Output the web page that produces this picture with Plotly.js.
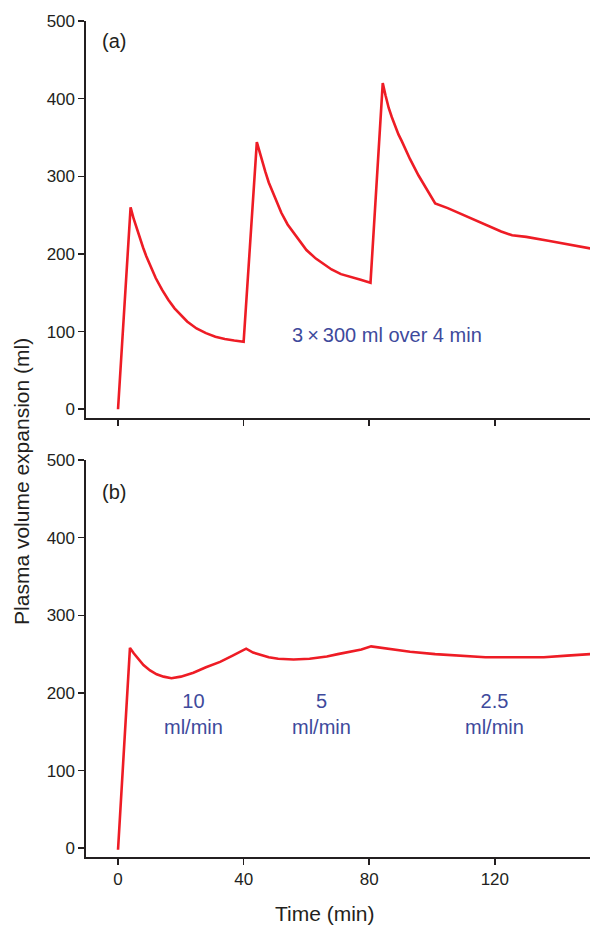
<!DOCTYPE html>
<html>
<head>
<meta charset="utf-8">
<script src="https://cdn.plot.ly/plotly-3.0.1.min.js"></script>
<style>
  html, body { margin: 0; padding: 0; background: #fff; }
  #chart { width: 590px; height: 927px; }
</style>
</head>
<body>
<div id="chart"></div>
<script>
// Panel (a): 3 x 300 ml over 4 min
const timeA = [0, 4, 5, 6, 7, 8, 9, 10, 12, 14, 16, 18, 20, 22, 25, 28, 31, 34, 37, 40,
               44.2, 45.5, 46.9, 48, 49.3, 50.6, 52, 54, 57, 60, 63, 65.5, 68, 71, 74, 77, 80.4,
               84.3, 85.2, 86.2, 87.2, 88.3, 89.3, 90.4, 93, 95.7, 98.4, 101,
               105, 110, 113.8, 118, 122, 125.5, 130, 137, 144, 150.5];
const volA  = [0, 260, 245, 232, 220, 208, 197, 187, 169, 154, 141, 130, 121, 113, 104, 98, 93.5, 90.5, 88.5, 87,
               344, 324, 306, 292, 279, 266, 253, 238, 222, 205, 194, 187, 180, 174, 170, 167, 163,
               420, 404, 388, 376, 364, 354, 345, 322, 301, 282, 265,
               259, 250, 243, 236, 229, 224, 222, 217, 212, 207];

// Panel (b): 10, 5 and 2.5 ml/min
const timeB = [0, 3.8, 5, 6, 7, 8.1, 10.2, 12.3, 14.5, 17, 20, 24, 28, 32.5, 36.5, 40.8,
               43, 45.3, 48, 51, 55.9, 61, 66.5, 70, 74, 77.5, 80.6,
               87, 93, 101, 109, 117, 125, 131, 135.6, 143, 150.5];
const volB  = [-2, 258, 251, 246, 241, 236, 229, 224, 221, 219, 221, 226, 233, 240, 248, 257,
               252, 249, 246, 244, 243, 244, 247, 250, 253, 256, 260,
               256, 253, 250, 248, 246, 246, 246, 246, 248, 250];

const yTicks = [0, 100, 200, 300, 400, 500];
const xTicks = [0, 40, 80, 120];

const labelA = "3\u2009\u00d7\u2009300 ml over 4 min";
const ratesB = ["10<br>ml/min", "5<br>ml/min", "2.5<br>ml/min"];
const rateX  = [23.9, 64.7, 119.9];

const red = "#ee1c25";
const ink = "#231f20";
const blue = "#3e4a9c";
const fontFam = "Liberation Sans, Arial, Helvetica, sans-serif";

const traces = [
  { x: timeA, y: volA, xaxis: "x2", yaxis: "y2", mode: "lines",
    line: { color: red, width: 2.6 }, hoverinfo: "skip", showlegend: false },
  { x: timeB, y: volB, xaxis: "x", yaxis: "y", mode: "lines",
    line: { color: red, width: 2.6 }, hoverinfo: "skip", showlegend: false }
];

const xCommon = {
  range: [-10.2, 150.3], tickvals: xTicks, ticks: "outside", ticklen: 6, tickwidth: 1.5,
  tickcolor: ink, showline: true, linewidth: 1.6, linecolor: ink, showgrid: false,
  zeroline: false, tickfont: { family: fontFam, size: 17, color: ink }, fixedrange: true
};
const yCommon = {
  range: [-11.3, 500], tickvals: yTicks, ticks: "outside", ticklen: 6, tickwidth: 1.5,
  tickcolor: ink, showline: true, linewidth: 1.6, linecolor: ink, showgrid: false,
  zeroline: false, tickfont: { family: fontFam, size: 17, color: ink }, fixedrange: true
};

const annotations = [
  { x: 85.7, y: 95, xref: "x2", yref: "y2", text: labelA, showarrow: false,
    font: { family: fontFam, size: 20, color: blue } },
  { x: 0.027, y: 0.976, xref: "paper", yref: "paper", text: "(a)", showarrow: false,
    xanchor: "left", yanchor: "middle", font: { family: fontFam, size: 20, color: ink } },
  { x: 0.027, y: 0.4366, xref: "paper", yref: "paper", text: "(b)", showarrow: false,
    xanchor: "left", yanchor: "middle", font: { family: fontFam, size: 20, color: ink } },
  { x: -0.127, y: 0.4498, xref: "paper", yref: "paper", text: "Plasma volume expansion (ml)",
    textangle: -90, xanchor: "center", yanchor: "middle", showarrow: false,
    font: { family: fontFam, size: 21, color: ink } },
  { x: 0.474, y: -0.067, xref: "paper", yref: "paper", text: "Time (min)", showarrow: false,
    xanchor: "center", yanchor: "middle", font: { family: fontFam, size: 21, color: ink } }
];
rateX.forEach((xv, i) => {
  annotations.push({ x: xv, y: 173, xref: "x", yref: "y", text: ratesB[i], showarrow: false,
    align: "center", font: { family: fontFam, size: 20, color: blue } });
});

const layout = {
  width: 590, height: 927,
  margin: { l: 86, r: 0, t: 21, b: 70, pad: 0 },
  paper_bgcolor: "#fff", plot_bgcolor: "#fff",
  showlegend: false,
  xaxis: Object.assign({}, xCommon, { anchor: "y", domain: [0, 1] }),
  xaxis2: Object.assign({}, xCommon, { anchor: "y2", domain: [0, 1], showticklabels: false, matches: "x" }),
  yaxis: Object.assign({}, yCommon, { anchor: "x", domain: [0, 0.4749] }),
  yaxis2: Object.assign({}, yCommon, { anchor: "x2", domain: [0.5251, 1] }),
  annotations: annotations
};

Plotly.newPlot("chart", traces, layout, { displayModeBar: false, staticPlot: true });
</script>
</body>
</html>
